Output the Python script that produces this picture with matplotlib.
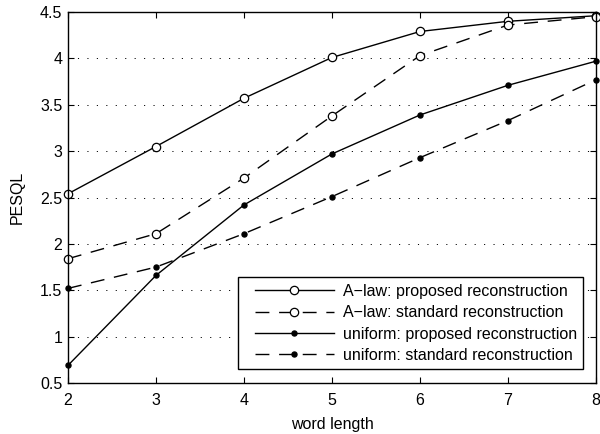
# PESQL vs word length, A-law / uniform quantisation
import numpy as np
import matplotlib
matplotlib.use("Agg")
import matplotlib.pyplot as plt
from matplotlib.legend_handler import HandlerLine2D
from matplotlib.ticker import FuncFormatter

word_length = [2, 3, 4, 5, 6, 7, 8]
alaw_proposed = [2.54, 3.05, 3.57, 4.01, 4.29, 4.40, 4.46]
alaw_standard = [1.84, 2.11, 2.71, 3.38, 4.03, 4.36, 4.45]
uniform_proposed = [0.69, 1.66, 2.42, 2.97, 3.39, 3.71, 3.97]
uniform_standard = [1.52, 1.75, 2.11, 2.51, 2.93, 3.33, 3.77]
labels = ['A\u2212law: proposed reconstruction',
          'A\u2212law: standard reconstruction',
          'uniform: proposed reconstruction',
          'uniform: standard reconstruction']


class PaddedHandle(HandlerLine2D):
	# leave some room on the left of the sample line, marker in the middle
	def get_xdata(self, legend, xdescent, ydescent, width, height, fontsize):
		pad = 0.65 * fontsize
		x0 = -xdescent + pad
		x1 = -xdescent + width
		return [x0, x1], [0.5 * (x0 + x1)]


plt.rcParams['font.family'] = ['Liberation Sans', 'DejaVu Sans']
plt.rcParams['lines.scale_dashes'] = False

fig = plt.figure(figsize=(6, 4.34), dpi=100)
ax = fig.add_axes([0.1133, 0.1175, 0.88, 0.8548])

dash = (0, (10, 7))
open_c = dict(marker='o', markersize=6, markerfacecolor='white',
              markeredgecolor='black', markeredgewidth=0.9)
dot = dict(marker='o', markersize=3.6, markerfacecolor='black',
           markeredgecolor='black')

ax.plot(word_length, alaw_proposed, color='black', lw=1, ls='-', label=labels[0], clip_on=False, **open_c)
ax.plot(word_length, alaw_standard, color='black', lw=1, ls=dash, label=labels[1], clip_on=False, **open_c)
ax.plot(word_length, uniform_proposed, color='black', lw=1, ls='-', label=labels[2], clip_on=False, **dot)
ax.plot(word_length, uniform_standard, color='black', lw=1, ls=dash, label=labels[3], clip_on=False, **dot)

ax.set_xlim(2, 8)
ax.set_ylim(0.5, 4.5)
ax.set_xticks(word_length)
ax.set_yticks(np.arange(0.5, 4.51, 0.5))
ax.yaxis.set_major_formatter(FuncFormatter(lambda v, p: '%g' % v))
ax.tick_params(direction='in', top=True, right=True, labelsize=11.5, length=4)
ax.tick_params(axis='x', pad=7)
ax.tick_params(axis='y', pad=4)
for s in ax.spines.values():
	s.set_linewidth(1)
ax.yaxis.grid(True, color='black', lw=0.7, ls=(0, (0.8, 6)))
ax.set_axisbelow(True)

ax.set_xlabel('word length', fontsize=11.5, labelpad=7)
ax.set_ylabel('PESQL', fontsize=11.5, labelpad=11)

leg = ax.legend(loc='lower right', bbox_to_anchor=(0.9755, 0.037), fontsize=11.5,
                handler_map={matplotlib.lines.Line2D: PaddedHandle()},
                handlelength=5.6, handletextpad=0.55, labelspacing=0.4,
                borderpad=0.4, borderaxespad=0, fancybox=False, framealpha=1,
                edgecolor='black')
leg.get_frame().set_linewidth(1)

fig.savefig('out.png', dpi=100)
